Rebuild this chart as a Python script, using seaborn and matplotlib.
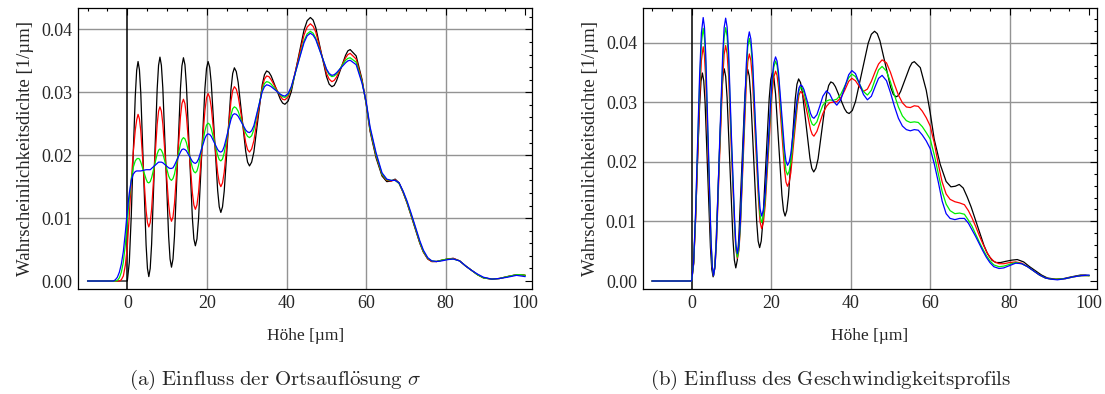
import matplotlib
matplotlib.use("Agg")
import matplotlib.pyplot as plt
from matplotlib.ticker import MultipleLocator, FormatStrFormatter
import seaborn as sns

# ---------------- data: panel (a) ----------------
X_A = [
    -10, -3.5, -3, -2.5, -2, -1.5, -1, -0.5, 0,
    0.5, 1, 1.5, 2, 2.35, 2.7,
    3.04, 3.38, 4.05, 4.72, 5.06, 5.4,
    5.75, 6.1, 6.8, 7.5, 7.85, 8.2,
    8.56, 8.92, 9.65, 10.38, 10.74, 11.1,
    11.48, 11.85, 12.6, 13.35, 13.72, 14.1,
    14.48, 14.85, 15.6, 16.35, 16.72, 17.1,
    17.5, 17.9, 18.7, 19.5, 19.9, 20.3,
    20.7, 21.1, 21.9, 22.7, 23.1, 23.5,
    23.92, 24.35, 25.2, 26.05, 26.48, 26.9,
    27.38, 27.85, 28.8, 29.75, 30.22, 30.7,
    31.24, 31.8, 32.85, 33.9, 34.46, 35.0,
    35.58, 36.15, 37.3, 38.45, 39.02, 39.6,
    40.4, 41.2, 42.8, 44.4, 45.2, 46.0,
    46.68, 47.35, 48.7, 50.05, 50.72, 51.4,
    51.98, 52.55, 53.7, 54.85, 55.42, 56.0,
    57.5, 59, 60, 61, 62.5, 64,
    65.2, 66.3, 67.3, 68.3, 69.3, 70.3, 71.3, 72.5, 73.5, 74.4,
    75.5, 76.5, 77.7, 79, 80.5, 81.9, 83.5, 85, 86.5, 88,
    89.5, 91.6, 93.5, 95.5, 97.8, 99, 100,
]

# reference curve (black), identical in both panels
BLACK = [
    0, 0, 0, 0, 0, 0, 0, 0, 0,
    .0030, .0105, .0205, .0294, .0335, .0349,
    .0336, .0299, .0178, .0057, .0020, .0007,
    .0020, .0058, .01815, .0305, .0343, .0356,
    .0343, .0307, .0189, .0071, .0035, .0022,
    .0035, .0071, .01885, .0306, .0342, .0355,
    .0344, .0311, .02055, .0100, .0067, .0056,
    .0067, .0099, .02025, .0306, .0338, .0349,
    .0340, .0314, .0229, .0144, .0118, .0109,
    .0118, .0143, .0224, .0305, .0330, .0339,
    .0333, .0316, .0261, .0206, .0189, .0183,
    .0189, .0205, .02585, .0312, .0328, .0334,
    .0332, .0326, .03075, .0289, .0283, .0281,
    .0286, .0301, .0350, .0399, .0414, .0419,
    .0415, .0403, .0364, .0325, .0313, .0309,
    .0311, .0318, .03385, .0359, .0366, .0368,
    .0358, .0320, .0282, .0238, .0196, .0167,
    .0158, .0159, .0162, .0156, .0141, .0124, .0104, .0080, .0060, .0046,
    .0035, .0031, .0031, .0033, .0035, .0036, .0032, .0024, .0017, .0010,
    .0005, .0003, .0004, .0007, .0010, .0010, .0009,
]

A_RED = [
    0, 0, 0, 0, 0, .0002, .0008, .0025, .0055,
    .0105, .0160, .0205, .0240, .0256, .0265,
    .0258, .0239, .01755, .0112, .0093, .0086,
    .0093, .0114, .01815, .0249, .0270, .0277,
    .0270, .0250, .0186, .0122, .0102, .0095,
    .0102, .0123, .0192, .0261, .0282, .0289,
    .0282, .0263, .02015, .0140, .0121, .0114,
    .0121, .0141, .0206, .0271, .0291, .0298,
    .0292, .0276, .0224, .0172, .0156, .0150,
    .0156, .0173, .02295, .0286, .0303, .0309,
    .0305, .0294, .0257, .0220, .0209, .0205,
    .0210, .0223, .02655, .0308, .0321, .0326,
    .0325, .0320, .0307, .0294, .0289, .0288,
    .0293, .0306, .03485, .0391, .0404, .0409,
    .0405, .0396, .0363, .0330, .0321, .0317,
    .0319, .0324, .03395, .0355, .0360, .0362,
    .0353, .0318, .0283, .0240, .0199, .0169,
    .0160, .0159, .0161, .0155, .0141, .0124, .0105, .0081, .0061, .0046,
    .0035, .0031, .0031, .0033, .0035, .0036, .0032, .0024, .0017, .0010,
    .0005, .0003, .0004, .0007, .0010, .0010, .0009,
]

A_GREEN = [
    0, 0, 0, .0001, .0005, .0014, .0030, .0058, .0095,
    .0132, .0162, .0181, .0191, .0194, .0195,
    .0194, .0189, .01755, .0162, .0157, .0156,
    .0158, .0164, .0183, .0202, .0208, .0210,
    .0208, .0203, .0185, .0167, .0162, .0160,
    .0163, .0170, .0194, .0218, .0225, .0228,
    .0226, .0220, .0200, .0180, .0174, .0172,
    .0175, .0184, .02115, .0239, .0248, .0251,
    .0249, .0242, .0221, .0200, .0193, .0191,
    .0194, .0204, .0234, .0264, .0274, .0277,
    .0275, .0270, .02525, .0235, .0230, .0228,
    .0231, .0241, .02725, .0304, .0314, .0317,
    .0316, .0313, .03045, .0296, .0293, .0292,
    .0296, .0307, .03445, .0382, .0393, .0397,
    .0394, .0386, .0361, .0336, .0328, .0325,
    .0326, .0329, .0340, .0351, .0354, .0355,
    .0348, .0316, .0284, .0242, .0201, .0170,
    .0161, .0160, .0160, .0155, .0142, .0125, .0106, .0082, .0062, .0047,
    .0036, .0032, .0031, .0033, .0035, .0035, .0032, .0024, .0017, .0010,
    .0005, .0003, .0004, .0007, .0010, .0010, .0009,
]

A_BLUE = [
    0, 0, .0002, .0006, .0014, .0027, .0047, .0077, .0112,
    .0140, .0160, .0170, .0174, .0175, .0175,
    .0175, .0175, .0176, .0177, .0177, .0177,
    .0177, .0179, .0183, .0187, .0189, .0189,
    .0189, .0188, .0184, .0180, .0179, .0179,
    .0180, .0184, .01945, .0205, .0209, .0210,
    .0209, .0207, .01985, .0190, .0188, .0187,
    .0189, .0194, .02105, .0227, .0232, .0234,
    .0233, .0230, .02195, .0209, .0206, .0205,
    .0207, .0214, .02355, .0257, .0264, .0266,
    .0265, .0262, .0251, .0240, .0237, .0236,
    .0239, .0247, .0274, .0301, .0309, .0312,
    .0311, .0309, .0303, .0297, .0295, .0294,
    .0298, .0309, .0344, .0379, .0390, .0394,
    .0391, .0384, .03605, .0337, .0330, .0327,
    .0328, .0331, .0339, .0347, .0350, .0351,
    .0344, .0314, .0286, .0245, .0204, .0172,
    .0162, .0160, .0160, .0156, .0143, .0127, .0108, .0084, .0064, .0049,
    .0037, .0032, .0031, .0032, .0034, .0035, .0032, .0024, .0017, .0011,
    .0006, .0003, .0004, .0006, .0009, .0008, .0007,
]

# ---------------- data: panel (b) ----------------
X_B = [
    -10, 0, 0.5, 1, 1.5, 2, 2.45, 2.9,
    3.22, 3.55, 4.2, 4.85, 5.18, 5.5,
    5.88, 6.25, 7.0, 7.8, 8.17, 8.55,
    8.92, 9.3, 10.0, 10.8, 11.13, 11.5,
    11.88, 12.25, 13.0, 13.75, 14.12, 14.5,
    14.89, 15.3, 16.05, 16.85, 17.21, 17.6,
    18.04, 18.5, 19.35, 20.2, 20.66, 21.1,
    21.48, 21.85, 22.6, 23.35, 23.72, 24.1,
    24.51, 24.95, 25.75, 26.6, 26.99, 27.4,
    27.82, 28.25, 29.1, 29.9, 30.33, 30.75,
    31.5, 32.25, 33.0, 33.9, 34.7, 35.5, 36.5, 37.5, 38.5, 39.5,
    40.3, 41.2, 42.2, 43.2, 44.2, 45.2, 46.2, 47.0, 47.9, 49,
    50, 51, 52, 53, 54, 55, 56, 57, 58, 59,
    60, 61, 62, 63, 64, 65, 66.2, 67.4, 68.6, 69.6,
    70.5, 71.4, 72.3, 73.2, 74.1, 75, 76, 77.3, 78.5, 80,
    81.5, 83, 84.5, 86, 87.5, 89, 90.5, 92, 94, 96,
    98, 100,
]

B_RED = [
    0, 0, .0028, .0105, .0207, .0307, .0370, .0393,
    .0378, .0337, .0201, .0065, .0024, .0009,
    .0024, .0065, .0202, .0339, .0380, .0395,
    .0381, .0343, .02165, .0090, .0052, .0038,
    .0051, .0088, .02095, .0331, .0368, .0381,
    .0370, .0338, .02345, .0131, .0099, .0088,
    .0098, .0127, .0220, .0313, .0342, .0352,
    .0345, .0324, .02555, .0187, .0166, .0159,
    .0165, .0182, .02385, .0295, .0312, .0318,
    .0315, .0307, .02805, .0254, .0246, .0243,
    .0251, .0266, .0281, .0293, .0299, .0300, .0301, .0307, .0320, .0335,
    .0340, .0336, .0326, .0318, .0322, .0335, .0352, .0364, .0371, .0366,
    .0350, .0330, .0312, .0299, .0292, .0291, .0294, .0293, .0285, .0274,
    .0260, .0232, .0197, .0166, .0146, .0137, .0133, .0131, .0128, .0118,
    .0106, .0092, .0077, .0063, .0050, .0040, .0033, .0029, .0029, .0031,
    .0032, .0030, .0024, .0017, .0010, .0005, .0003, .0003, .0004, .0007,
    .0009, .0009,
]

B_GREEN = [
    0, 0, .0030, .0113, .0223, .0331, .0399, .0424,
    .0408, .0363, .02165, .0070, .0025, .0009,
    .0025, .0070, .0217, .0364, .0409, .0425,
    .0410, .0369, .02325, .0096, .0055, .0040,
    .0054, .0094, .02235, .0353, .0393, .0407,
    .0395, .0362, .02525, .0143, .0110, .0098,
    .0108, .0138, .02335, .0329, .0359, .0369,
    .0362, .0341, .02735, .0206, .0185, .0178,
    .0184, .0199, .02515, .0304, .0319, .0325,
    .0323, .0316, .0293, .0270, .0263, .0261,
    .0267, .0282, .0295, .0302, .0304, .0303, .0305, .0313, .0327, .0341,
    .0347, .0343, .0331, .0318, .0312, .0320, .0339, .0354, .0360, .0352,
    .0334, .0312, .0292, .0277, .0269, .0266, .0267, .0266, .0259, .0249,
    .0238, .0212, .0181, .0150, .0129, .0118, .0113, .0114, .0112, .0102,
    .0092, .0079, .0066, .0054, .0043, .0034, .0027, .0024, .0025, .0028,
    .0031, .0029, .0024, .0017, .0010, .0005, .0003, .0003, .0004, .0007,
    .0009, .0009,
]

B_BLUE = [
    0, 0, .0032, .0118, .0233, .0345, .0416, .0442,
    .0426, .0379, .02255, .0072, .0025, .0009,
    .0025, .0072, .0225, .0378, .0425, .0441,
    .0426, .0383, .02435, .0104, .0061, .0046,
    .0060, .0100, .0232, .0364, .0404, .0418,
    .0406, .0373, .02635, .0154, .0121, .0109,
    .0119, .0148, .02425, .0337, .0366, .0376,
    .0369, .0349, .0285, .0221, .0201, .0194,
    .0199, .0214, .02615, .0309, .0324, .0329,
    .0327, .0321, .0301, .0281, .0275, .0273,
    .0279, .0294, .0310, .0319, .0314, .0303, .0295, .0304, .0325, .0346,
    .0353, .0348, .0331, .0313, .0304, .0310, .0327, .0340, .0345, .0336,
    .0316, .0293, .0273, .0260, .0254, .0252, .0254, .0253, .0245, .0235,
    .0222, .0197, .0167, .0134, .0113, .0105, .0103, .0105, .0105, .0097,
    .0086, .0075, .0063, .0051, .0040, .0031, .0024, .0021, .0022, .0026,
    .0030, .0029, .0024, .0017, .0010, .0005, .0003, .0002, .0004, .0007,
    .0009, .0010,
]

X_TICKS = [0, 20, 40, 60, 80, 100]
Y_TICKS = [0.00, 0.01, 0.02, 0.03, 0.04]
X_LABEL = "Höhe [µm]"
Y_LABEL = "Wahrscheinlichkeitsdichte [1/µm]"
CAPTION_A = r"$\mathrm{(a)\ Einfluss\ der\ Ortsaufl\ddot{o}sung}\ \sigma$"
CAPTION_B = r"$\mathrm{(b)\ Einfluss\ des\ Geschwindigkeitsprofils}$"

# ---------------- style ----------------
sns.set_theme(style="white")
plt.rcParams['font.family'] = ['Liberation Serif', 'DejaVu Serif']
plt.rcParams['mathtext.fontset'] = 'cm'

fig = plt.figure(figsize=(11.05, 3.94), dpi=100)
ax_a = fig.add_axes([0.0706, 0.2665, 0.4111, 0.7124])
ax_b = fig.add_axes([0.5816, 0.2665, 0.4114, 0.7124])

GRID = "#939393"


def style_axes(ax, xlim, ylim):
    for gx in X_TICKS[1:-1]:
        ax.axvline(gx, color=GRID, lw=1.0, zorder=0)
    for gy in Y_TICKS[1:]:
        ax.axhline(gy, color=GRID, lw=1.0, zorder=0)
    ax.axvline(0, color="black", lw=1.1, zorder=1)
    ax.set_xlim(*xlim)
    ax.set_ylim(*ylim)
    ax.set_xticks(X_TICKS)
    ax.set_yticks(Y_TICKS)
    ax.xaxis.set_minor_locator(MultipleLocator(5))
    ax.yaxis.set_minor_locator(MultipleLocator(0.002))
    ax.yaxis.set_major_formatter(FormatStrFormatter("%.2f"))
    ax.tick_params(which="both", direction="in", top=True, right=True,
                   color="black", width=0.8, labelsize=13, pad=4)
    ax.tick_params(which="major", length=5)
    ax.tick_params(which="minor", length=2.5)
    for sp in ax.spines.values():
        sp.set_color("black")
        sp.set_linewidth(0.9)
    ax.set_xlabel(X_LABEL, fontsize=12.5, labelpad=12)
    ax.set_ylabel(Y_LABEL, fontsize=13.5, labelpad=5)


series_a = [(X_A, BLACK, "black"), (X_A, A_RED, "#ff0000"),
            (X_A, A_GREEN, "#00ee00"), (X_A, A_BLUE, "#0000ff")]
series_b = [(X_A, BLACK, "black"), (X_B, B_RED, "#ff0000"),
            (X_B, B_GREEN, "#00ee00"), (X_B, B_BLUE, "#0000ff")]

for ax, series in ((ax_a, series_a), (ax_b, series_b)):
    for i, (xs, ys, col) in enumerate(series):
        sns.lineplot(x=xs, y=ys, color=col, lw=0.9, ax=ax,
                     estimator=None, sort=False, zorder=2 + i)

style_axes(ax_a, (-12.39, 101.76), (-0.00127, 0.04336))
style_axes(ax_b, (-12.32, 102.01), (-0.00134, 0.04575))

fig.text(0.249, 0.036, CAPTION_A, ha="center", va="center", fontsize=15)
fig.text(0.752, 0.036, CAPTION_B, ha="center", va="center", fontsize=15)

fig.savefig("out.png", dpi=100)
